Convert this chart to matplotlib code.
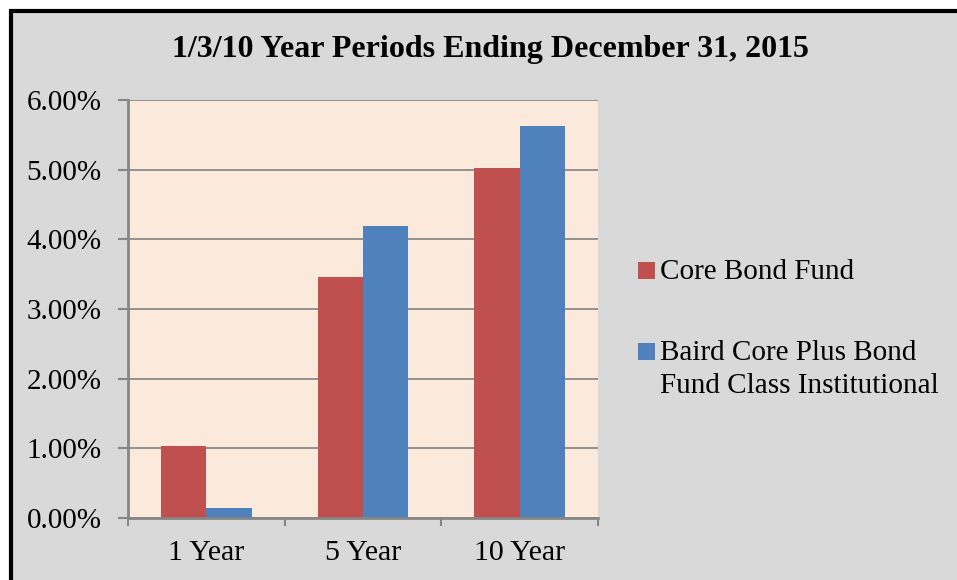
import matplotlib.pyplot as plt
from matplotlib.patches import Rectangle
from matplotlib.lines import Line2D
from matplotlib.ticker import FixedLocator, PercentFormatter

periods = ["1 Year", "5 Year", "10 Year"]
core_bond = [1.03, 3.46, 5.02]
baird_plus = [0.15, 4.19, 5.62]
series_names = ["Core Bond Fund", "Baird Core Plus Bond\nFund Class Institutional"]
series_colors = ["#c0504d", "#4f81bd"]

W, H = 957, 580
plt.rcParams["font.family"] = ["Liberation Serif", "DejaVu Serif"]

fig = plt.figure(figsize=(W / 100, H / 100), dpi=100)
fig.patch.set_facecolor("white")

# gray chart area, black frame only on the left and top edges
fig.add_artist(
    Rectangle(
        (10.5 / W, 0),
        1,
        (H - 10.5) / H,
        transform=fig.transFigure,
        facecolor="#d9d9d9",
        edgecolor="none",
        zorder=-5
    )
)
fig.add_artist(
    Line2D([10.5 / W, 10.5 / W, 1], [0, 1 - 10.5 / H, 1 - 10.5 / H],
           transform=fig.transFigure, color="black", linewidth=3,
           solid_joinstyle="miter", zorder=-4)
)

ax = fig.add_axes([128 / W, 62 / H, 470 / W, 418 / H])
ax.set_facecolor("#fbe9db")

width = 0.29
x = list(range(len(periods)))
ax.bar([i - width / 2 for i in x], core_bond, width, color=series_colors[0],
       zorder=3)
ax.bar([i + width / 2 for i in x], baird_plus, width, color=series_colors[1],
       zorder=3)

ax.set_xlim(-0.5, len(periods) - 0.5)
ax.set_ylim(0, 6)
ax.yaxis.set_major_locator(FixedLocator([0, 1, 2, 3, 4, 5, 6]))
ax.yaxis.set_major_formatter(PercentFormatter(decimals=2))
ax.grid(axis="y", color="#8a8a8a", linewidth=1.3, zorder=1)

ax.set_xticks([i - 0.5 for i in range(len(periods) + 1)])
ax.set_xticklabels([])
ax.set_xticks(x, minor=True)
ax.set_xticklabels(periods, minor=True)
ax.tick_params(axis="x", which="minor", length=0, pad=16, labelsize=21.5)
ax.tick_params(axis="x", which="major", length=6, width=1.5, color="#868686")
ax.tick_params(axis="y", length=7, width=1.5, color="#868686", pad=12,
               labelsize=21)

for side in ["top", "right"]:
    ax.spines[side].set_visible(False)
for side in ["left", "bottom"]:
    ax.spines[side].set_color("#868686")
    ax.spines[side].set_linewidth(2)
    ax.spines[side].set_zorder(4)

fig.text(490 / W, 1 - 49 / H, "1/3/10 Year Periods Ending December 31, 2015",
         ha="center", va="center", fontsize=23, weight="bold")

# legend, square aligned with the first line of each label
legend_baselines = [279, 360]
for name, color, base in zip(series_names, series_colors, legend_baselines):
    fig.add_artist(
        Rectangle(
            (638 / W, 1 - base / H),
            17 / W,
            17 / H,
            transform=fig.transFigure,
            facecolor=color,
            edgecolor="none"
        )
    )
    lines = name.split("\n")
    for k, line in enumerate(lines):
        fig.text(660 / W, 1 - (base + 33 * k) / H, line, ha="left",
                 va="baseline", fontsize=21)

plt.savefig("out.png", dpi=100)
plt.close()
